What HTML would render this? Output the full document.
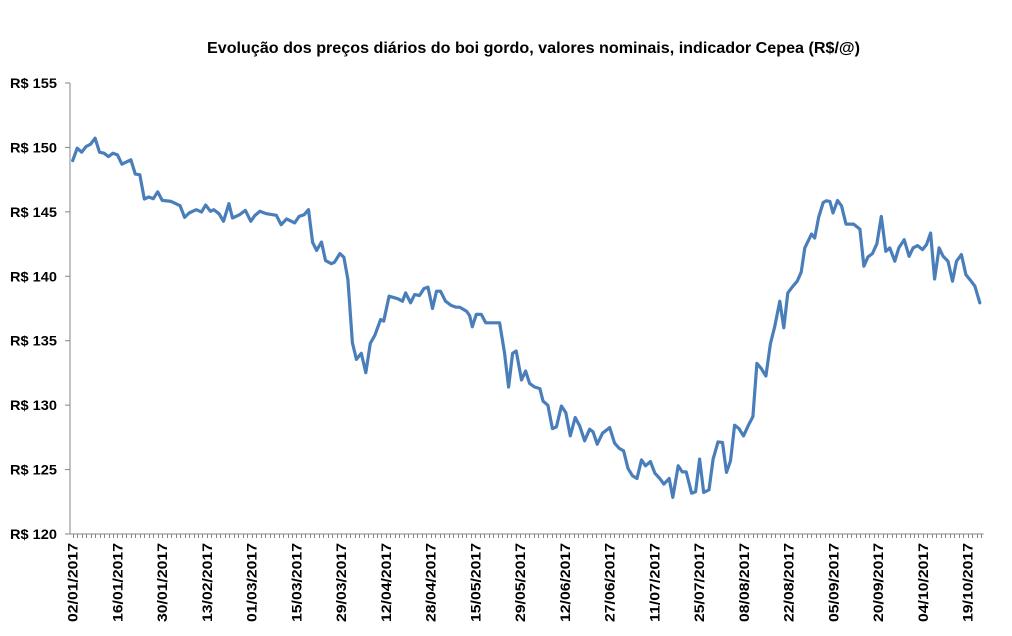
<!DOCTYPE html>
<html><head><meta charset="utf-8"><style>
html,body{margin:0;padding:0;background:#fff;}
svg text{font-family:"Liberation Sans",Arial,sans-serif;font-weight:bold;fill:#000;}
</style></head><body>
<svg id="chart" width="1012" height="631" xmlns="http://www.w3.org/2000/svg">
<text x="207" y="53" font-size="15.5" textLength="653" lengthAdjust="spacingAndGlyphs">Evolução dos preços diários do boi gordo, valores nominais, indicador Cepea (R$/@)</text>
<g id="axes"></g>
<g id="plot"></g>
</svg>
<script>
const dayIndex=[0,1,2,3,4,5,6,7,8,9,10,11,13,14,15,16,17,18,19,20,22,24,25,26,27.6,28.8,29.7,30.8,31.5,32.7,33.7,34.9,35.7,37.3,38.6,39.8,40.7,41.8,43.3,45.5,46.6,47.8,49.6,50.6,51.7,52.7,53.6,54.5,55.6,56.5,57.8,58.5,59.7,60.6,61.5,62.5,63.4,64.5,65.5,66.5,67.5,68.8,69.5,70.7,72.7,73.7,74.4,75.5,76.4,77.5,78.5,79.4,80.4,81.3,82.2,83.3,84.6,85.7,86.5,88.0,88.7,89.3,90.2,91.3,92.3,95.4,96.5,97.4,98.3,99.1,100.3,101.2,102.1,103.2,104.4,105.1,106.2,107.2,108.1,109.2,110.2,111.2,112.3,113.3,114.4,115.5,116.3,117.2,118.4,120.0,121.1,122.1,123.1,124.1,125.1,126.1,127.1,128.0,129.1,130.1,131.2,132.1,133.3,134.1,135.3,136.2,137.1,138.3,139.2,140.1,141.0,142.2,143.1,144.2,145.2,146.1,147.0,147.9,148.9,149.9,151.1,152.0,152.9,153.9,154.9,155.9,156.9,158.0,158.9,159.8,160.8,161.9,162.8,163.6,164.5,165.1,165.8,166.7,167.7,168.4,169.2,169.9,170.9,171.8,172.8,174.5,175.9,176.8,177.7,178.7,179.7,180.7,181.7,182.6,183.7,184.6,185.8,186.9,187.8,188.8,189.9,190.8,191.7,192.6,193.6,194.5,195.6,196.6,197.5,198.6,199.6,200.6,201.6,202.7];
const prices=[148.98,149.94,149.63,150.07,150.25,150.72,149.63,149.55,149.29,149.55,149.42,148.70,149.04,147.93,147.88,146.0,146.15,146.02,146.56,145.89,145.81,145.48,144.57,144.91,145.17,144.99,145.53,145.04,145.17,144.86,144.27,145.63,144.52,144.78,145.11,144.27,144.71,145.04,144.86,144.73,144.0,144.45,144.14,144.65,144.78,145.17,142.63,142.01,142.66,141.22,140.98,141.09,141.76,141.47,139.75,134.84,133.55,134.02,132.52,134.79,135.41,136.65,136.52,138.46,138.25,138.07,138.71,137.94,138.58,138.51,139.05,139.15,137.50,138.84,138.84,138.07,137.73,137.60,137.60,137.29,136.96,136.08,137.04,137.04,136.39,136.39,134.07,131.41,134.02,134.20,131.95,132.65,131.69,131.41,131.28,130.32,129.99,128.18,128.31,129.93,129.42,127.61,129.04,128.39,127.23,128.13,127.92,126.97,127.82,128.26,127.05,126.66,126.45,125.09,124.52,124.31,125.75,125.29,125.62,124.72,124.31,123.87,124.31,122.84,125.29,124.82,124.82,123.17,123.28,125.81,123.23,123.43,125.81,127.15,127.10,124.78,125.68,128.44,128.18,127.61,128.52,129.11,133.24,132.83,132.26,134.76,136.13,138.07,136.0,138.71,139.18,139.62,140.32,142.20,142.84,143.28,142.97,144.59,145.73,145.86,145.81,144.91,145.88,145.47,144.05,144.05,143.66,140.78,141.50,141.76,142.53,144.65,141.94,142.20,141.17,142.20,142.84,141.55,142.20,142.38,142.07,142.46,143.36,139.79,142.20,141.55,141.17,139.62,141.17,141.68,140.13,139.70,139.23,137.94];
const yTicks=[120,125,130,135,140,145,150,155];
const xLabels=["02/01/2017","16/01/2017","30/01/2017","13/02/2017","01/03/2017","15/03/2017","29/03/2017","12/04/2017","28/04/2017","15/05/2017","29/05/2017","12/06/2017","27/06/2017","11/07/2017","25/07/2017","08/08/2017","22/08/2017","05/09/2017","20/09/2017","04/10/2017","19/10/2017"];
const labelStep=10;
const nPoints=204;

const NS="http://www.w3.org/2000/svg";
const X0=72.7,DX=4.475,AX=70,AY=534,YTOP=83;
function xScale(i){return X0+i*DX;}
function yScale(v){return AY-(v-120)/35*(AY-YTOP);}
function mk(tag,attrs,parent){const e=document.createElementNS(NS,tag);for(const k in attrs)e.setAttribute(k,attrs[k]);parent.appendChild(e);return e;}
const axes=document.getElementById('axes'),plot=document.getElementById('plot');

const ya=mk('line',{x1:AX,y1:YTOP,x2:AX,y2:AY,stroke:'#868686','stroke-width':1},axes);


yTicks.forEach(v=>{
  const y=yScale(v);
  const t=mk('line',{x1:AX-5,y1:y,x2:AX,y2:y,stroke:'#868686','stroke-width':1},axes);
  
  
  const l=mk('text',{x:10,y:y+5,'font-size':14,textLength:47,lengthAdjust:'spacingAndGlyphs'},axes);
  l.textContent='R$ '+v;
  
  
});
const xa=mk('line',{x1:AX,y1:AY,x2:xScale(nPoints)-2,y2:AY,stroke:'#868686','stroke-width':1},axes);


for(let i=0;i<nPoints;i++){
  const x=Math.round(xScale(i))+0.5;
  const t=mk('line',{x1:x,y1:AY,x2:x,y2:AY+4,stroke:'#868686','stroke-width':1},axes);
  
  
}
xLabels.forEach((s,k)=>{
  const x=xScale(k*labelStep)+5;
  const l=mk('text',{x:-622,y:0,'font-size':14,textLength:79,lengthAdjust:'spacingAndGlyphs',transform:`translate(${x},0) rotate(-90)`},axes);
  l.textContent=s;
  
  
});
const pts=dayIndex.map((d,i)=>xScale(d).toFixed(1)+','+yScale(prices[i]).toFixed(1)).join(' ');
const pl=mk('polyline',{points:pts,fill:'none',stroke:'#4a7ebb','stroke-width':3.2,'stroke-linejoin':'round','stroke-linecap':'round'},plot);


</script>
</body></html>
